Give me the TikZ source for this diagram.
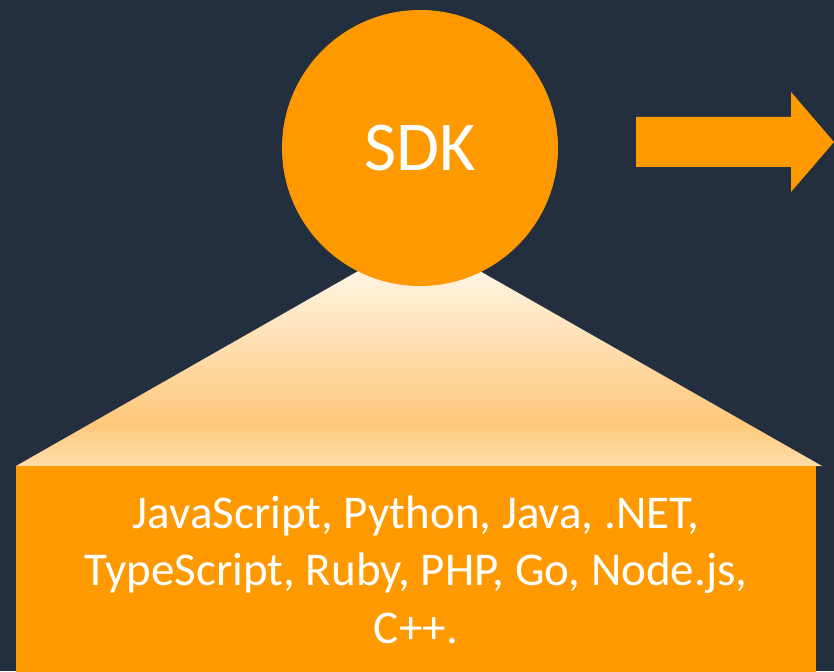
\documentclass[tikz,border=0pt]{standalone}
\usepackage{fontspec}
\setmainfont{Carlito}
\definecolor{bgnavy}{HTML}{232F3E}
\definecolor{awsorange}{HTML}{FF9900}
\definecolor{gradtop}{HTML}{FFF4E4}
\definecolor{gradmid}{HTML}{FFC87A}
\definecolor{gradbot}{HTML}{FFDEAA}
\pgfdeclareverticalshading{trapshade}{100bp}{color(0bp)=(gradbot); color(25bp)=(gradbot); color(36bp)=(gradmid); color(75bp)=(gradtop); color(100bp)=(gradtop)}
\tikzset{
  orangefill/.style={fill=awsorange, draw=none},
  whitetext/.style={text=white, inner sep=0pt, outer sep=0pt},
}
\begin{document}
\begin{tikzpicture}[x=1pt,y=-1pt]
  \fill[bgnavy] (0,0) rectangle (834,671);
  \useasboundingbox (0,0) rectangle (834,671);
  % gradient trapezoid
  \path[shading=trapshade] (16,466) -- (822,466) -- (478,270) -- (360,270) -- cycle;
  % language box
  \fill[awsorange] (16,466) rectangle (816,680);
  % SDK circle
  \node[circle, orangefill, minimum size=276pt, inner sep=0pt] (sdk) at (420,148) {};
  \node[whitetext, font=\fontsize{70}{84}\selectfont] (sdklabel) at (sdk.center) {SDK};
  % arrow
  \fill[awsorange] (636,117) -- (791,117) -- (791,92) -- (834,142) -- (791,192) -- (791,167) -- (636,167) -- cycle;
  % languages text
  \node[whitetext, align=center, anchor=base, font=\fontsize{47}{57.5}\selectfont] (langs) at (416,643)
    {JavaScript, Python, Java, .NET,\\TypeScript, Ruby, PHP, Go, Node.js,\\C++.};
\end{tikzpicture}
\end{document}
